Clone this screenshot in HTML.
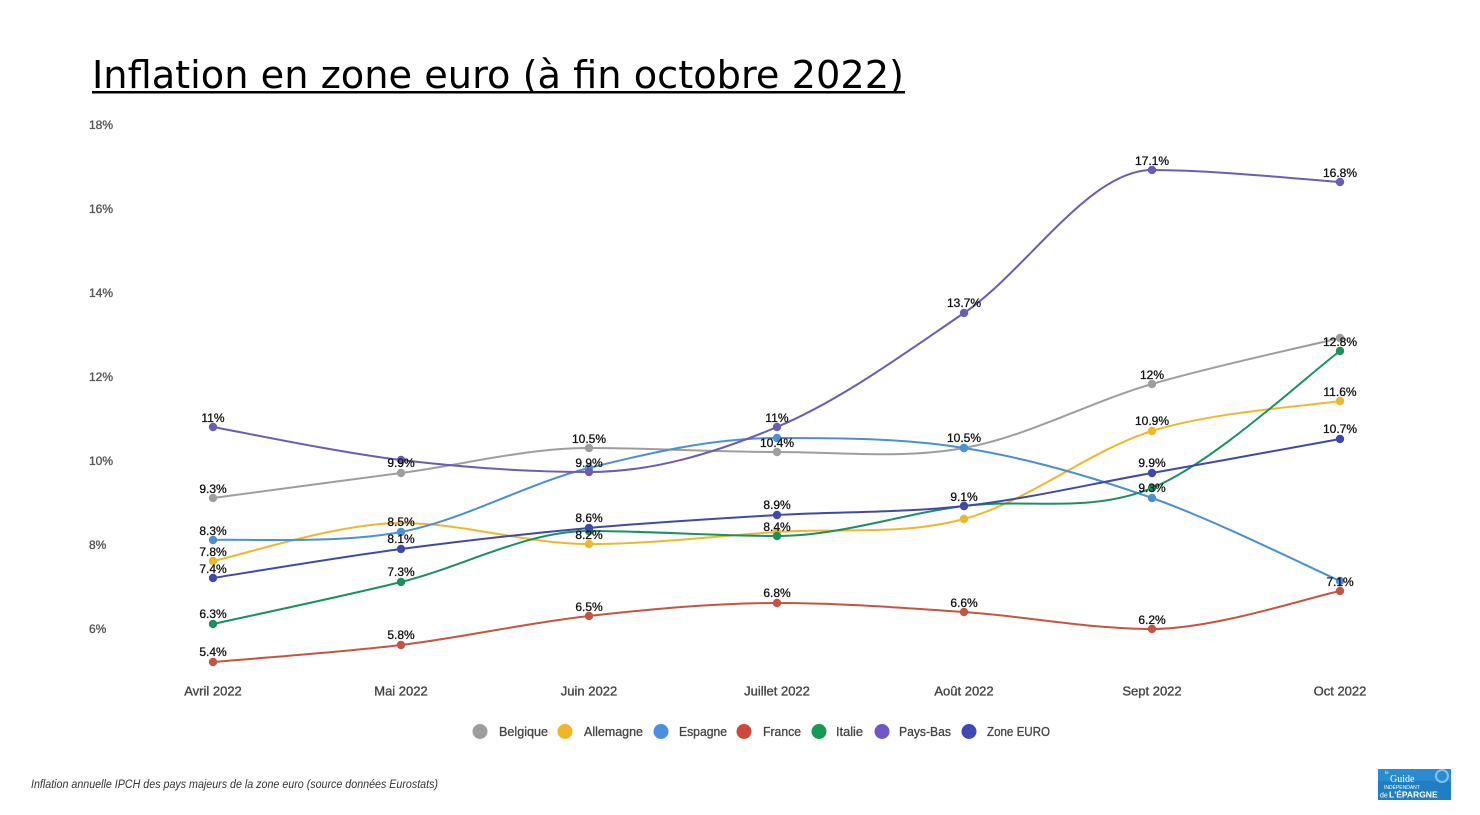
<!DOCTYPE html>
<html>
<head>
<meta charset="utf-8">
<style>
  html,body{margin:0;padding:0;background:#fff;}
  svg{display:block;}
  .tt{font-family:"DejaVu Sans","Liberation Sans",sans-serif;}
  .f{font-family:"Liberation Sans",Arial,sans-serif;}
</style>
</head>
<body>
<svg width="1480" height="815" viewBox="0 0 1480 815" xmlns="http://www.w3.org/2000/svg">
  <rect x="0" y="0" width="1480" height="815" fill="#ffffff"/>

  <!-- Title -->
  <text class="tt" x="92" y="88" font-size="38" fill="#000" textLength="812" lengthAdjust="spacingAndGlyphs">Inflation en zone euro (à fin octobre 2022)</text>
  <rect x="92" y="91" width="813" height="2.5" fill="#000"/>

  <!-- Y axis labels -->
  <g class="f" font-size="12" fill="#555" stroke="#555" stroke-width="0.35">
    <text x="89" y="129">18%</text>
    <text x="89" y="213">16%</text>
    <text x="89" y="297">14%</text>
    <text x="89" y="381">12%</text>
    <text x="89" y="465">10%</text>
    <text x="89" y="549">8%</text>
    <text x="89" y="633">6%</text>
  </g>

  <!-- X axis labels -->
  <g class="f" font-size="13" fill="#444" stroke="#444" stroke-width="0.35" text-anchor="middle">
    <text x="213" y="695.5">Avril 2022</text>
    <text x="401" y="695.5">Mai 2022</text>
    <text x="589" y="695.5">Juin 2022</text>
    <text x="777" y="695.5">Juillet 2022</text>
    <text x="964" y="695.5">Août 2022</text>
    <text x="1152" y="695.5">Sept 2022</text>
    <text x="1340" y="695.5">Oct 2022</text>
  </g>

  <!-- Lines -->
  <g fill="none" stroke-width="2" stroke-linecap="round" stroke-linejoin="round">
    <path stroke="#9e9e9e" d="M213,498 C244,493.8 338,481.3 401,473 C464,464.7 526,448 589,448 C652,448 714,452 777,452 C840,452 901,459.3 964,448 C1027,436.7 1089,402.3 1152,384 C1215,365.7 1309,345.7 1340,338"/>
    <path stroke="#efb72d" d="M213,561 C244,554.7 338,523 401,523 C464,523 526,544 589,544 C652,544 714,536.2 777,532 C840,527.8 901,535.8 964,519 C1027,502.2 1089,450.7 1152,431 C1215,411.3 1309,406 1340,401"/>
    <path stroke="#4a8fd8" d="M213,540 C244,538.7 338,544 401,532 C464,520 526,483.7 589,468 C652,452.3 714,438 777,438 C840,438 901,438 964,448 C1027,458 1089,475.8 1152,498 C1215,520.2 1309,567.2 1340,581"/>
    <path stroke="#c55440" d="M213,662 C244,659.2 338,652.7 401,645 C464,637.3 526,623 589,616 C652,609 714,603 777,603 C840,603 901,607.7 964,612 C1027,616.3 1089,629 1152,629 C1215,629 1309,597.3 1340,591"/>
    <path stroke="#1b9160" d="M213,624 C244,617 338,597.5 401,582 C464,566.5 526,531 589,531 C652,531 714,536 777,536 C840,536 901,514 964,506 C1027,498 1089,513.8 1152,488 C1215,462.2 1309,373.8 1340,351"/>
    <path stroke="#6d5bb8" d="M213,427 C244,432.5 338,452.5 401,460 C464,467.5 526,472 589,472 C652,472 714,453.5 777,427 C840,400.5 901,355.8 964,313 C1027,270.2 1089,170 1152,170 C1215,170 1309,180 1340,182"/>
    <path stroke="#4049a8" d="M213,578 C244,573.2 338,557.3 401,549 C464,540.7 526,533.7 589,528 C652,522.3 714,518.7 777,515 C840,511.3 901,513 964,506 C1027,499 1089,484.2 1152,473 C1215,461.8 1309,444.7 1340,439"/>
  </g>

  <!-- Dots -->
  <g fill="#9e9e9e">
    <circle cx="213" cy="498" r="4.2"/><circle cx="401" cy="473" r="4.2"/><circle cx="589" cy="448" r="4.2"/><circle cx="777" cy="452" r="4.2"/><circle cx="964" cy="448" r="4.2"/><circle cx="1152" cy="384" r="4.2"/><circle cx="1340" cy="338" r="4.2"/>
  </g>
  <g fill="#efb72d">
    <circle cx="213" cy="561" r="4.2"/><circle cx="589" cy="544" r="4.2"/><circle cx="777" cy="532" r="4.2"/><circle cx="964" cy="519" r="4.2"/><circle cx="1152" cy="431" r="4.2"/><circle cx="1340" cy="401" r="4.2"/>
  </g>
  <g fill="#4a8fd8">
    <circle cx="213" cy="540" r="4.2"/><circle cx="401" cy="532" r="4.2"/><circle cx="589" cy="468" r="4.2"/><circle cx="777" cy="438" r="4.2"/><circle cx="964" cy="448" r="4.2"/><circle cx="1152" cy="498" r="4.2"/><circle cx="1340" cy="581" r="4.2"/>
  </g>
  <g fill="#c55440">
    <circle cx="213" cy="662" r="4.2"/><circle cx="401" cy="645" r="4.2"/><circle cx="589" cy="616" r="4.2"/><circle cx="777" cy="603" r="4.2"/><circle cx="964" cy="612" r="4.2"/><circle cx="1152" cy="629" r="4.2"/><circle cx="1340" cy="591" r="4.2"/>
  </g>
  <g fill="#1b9160">
    <circle cx="213" cy="624" r="4.2"/><circle cx="401" cy="582" r="4.2"/><circle cx="589" cy="531" r="4.2"/><circle cx="777" cy="536" r="4.2"/><circle cx="964" cy="506" r="4.2"/><circle cx="1152" cy="488" r="4.2"/><circle cx="1340" cy="351" r="4.2"/>
  </g>
  <g fill="#6d5bb8">
    <circle cx="213" cy="427" r="4.2"/><circle cx="401" cy="460" r="4.2"/><circle cx="589" cy="472" r="4.2"/><circle cx="777" cy="427" r="4.2"/><circle cx="964" cy="313" r="4.2"/><circle cx="1152" cy="170" r="4.2"/><circle cx="1340" cy="182" r="4.2"/>
  </g>
  <g fill="#4049a8">
    <circle cx="213" cy="578" r="4.2"/><circle cx="401" cy="549" r="4.2"/><circle cx="589" cy="528" r="4.2"/><circle cx="777" cy="515" r="4.2"/><circle cx="964" cy="506" r="4.2"/><circle cx="1152" cy="473" r="4.2"/><circle cx="1340" cy="439" r="4.2"/>
  </g>

  <!-- Data labels -->
  <g class="f" font-size="12" fill="#111" stroke="#111" stroke-width="0.3" text-anchor="middle">
    <text x="213" y="422">11%</text>
    <text x="213" y="493">9.3%</text>
    <text x="213" y="535">8.3%</text>
    <text x="213" y="556">7.8%</text>
    <text x="213" y="573">7.4%</text>
    <text x="213" y="618">6.3%</text>
    <text x="213" y="656">5.4%</text>

    <text x="401" y="467">9.9%</text>
    <text x="401" y="526">8.5%</text>
    <text x="401" y="543">8.1%</text>
    <text x="401" y="576">7.3%</text>
    <text x="401" y="639">5.8%</text>

    <text x="589" y="443">10.5%</text>
    <text x="589" y="467">9.9%</text>
    <text x="589" y="522">8.6%</text>
    <text x="589" y="539">8.2%</text>
    <text x="589" y="611">6.5%</text>

    <text x="777" y="422">11%</text>
    <text x="777" y="447">10.4%</text>
    <text x="777" y="509">8.9%</text>
    <text x="777" y="531">8.4%</text>
    <text x="777" y="597">6.8%</text>

    <text x="964" y="307">13.7%</text>
    <text x="964" y="442">10.5%</text>
    <text x="964" y="501">9.1%</text>
    <text x="964" y="607">6.6%</text>

    <text x="1152" y="165">17.1%</text>
    <text x="1152" y="379">12%</text>
    <text x="1152" y="425">10.9%</text>
    <text x="1152" y="467">9.9%</text>
    <text x="1152" y="492">9.3%</text>
    <text x="1152" y="624">6.2%</text>

    <text x="1340" y="177">16.8%</text>
    <text x="1340" y="346">12.8%</text>
    <text x="1340" y="396">11.6%</text>
    <text x="1340" y="433">10.7%</text>
    <text x="1340" y="586">7.1%</text>
  </g>

  <!-- Legend -->
  <g>
    <circle cx="480" cy="731.5" r="7.5" fill="#9e9e9e"/>
    <circle cx="565" cy="731.5" r="7.5" fill="#f0b52a"/>
    <circle cx="661" cy="731.5" r="7.5" fill="#4a8fe0"/>
    <circle cx="744" cy="731.5" r="7.5" fill="#cc4a3c"/>
    <circle cx="819" cy="731.5" r="7.5" fill="#169a5a"/>
    <circle cx="882" cy="731.5" r="7.5" fill="#7256c8"/>
    <circle cx="969" cy="731.5" r="7.5" fill="#3e48b8"/>
  </g>
  <g class="f" font-size="12.5" fill="#444" stroke="#444" stroke-width="0.3">
    <text x="499" y="736" textLength="49" lengthAdjust="spacingAndGlyphs">Belgique</text>
    <text x="584" y="736" textLength="59" lengthAdjust="spacingAndGlyphs">Allemagne</text>
    <text x="679" y="736" textLength="48" lengthAdjust="spacingAndGlyphs">Espagne</text>
    <text x="763" y="736" textLength="38" lengthAdjust="spacingAndGlyphs">France</text>
    <text x="836" y="736" textLength="27" lengthAdjust="spacingAndGlyphs">Italie</text>
    <text x="899" y="736" textLength="52" lengthAdjust="spacingAndGlyphs">Pays-Bas</text>
    <text x="987" y="736" textLength="63" lengthAdjust="spacingAndGlyphs">Zone EURO</text>
  </g>

  <!-- Footer -->
  <text class="f" x="31" y="788" font-size="11.5" font-style="italic" fill="#333" textLength="407" lengthAdjust="spacingAndGlyphs">Inflation annuelle IPCH des pays majeurs de la zone euro (source données Eurostats)</text>

  <!-- Logo -->
  <g>
    <rect x="1378" y="769" width="73" height="31" fill="#1f7fc4"/>
    <rect x="1378" y="769" width="73" height="12" fill="#2a8ccf"/>
    <circle cx="1442" cy="776" r="6" fill="none" stroke="#7fc4ee" stroke-width="2"/>
    <text x="1385" y="774" font-family="Liberation Serif,serif" font-size="5" fill="#fff">le</text>
    <text x="1390" y="782" font-family="Liberation Serif,serif" font-size="10" fill="#fff">Guide</text>
    <text x="1384" y="789" font-family="Liberation Sans,sans-serif" font-size="5" fill="#fff">INDÉPENDANT</text>
    <text x="1380" y="797.5" font-family="Liberation Sans,sans-serif" font-size="7" fill="#fff">de</text>
    <text x="1389" y="797.5" font-family="Liberation Sans,sans-serif" font-size="8.5" font-weight="bold" fill="#fff">L'ÉPARGNE</text>
  </g>
</svg>
</body>
</html>
